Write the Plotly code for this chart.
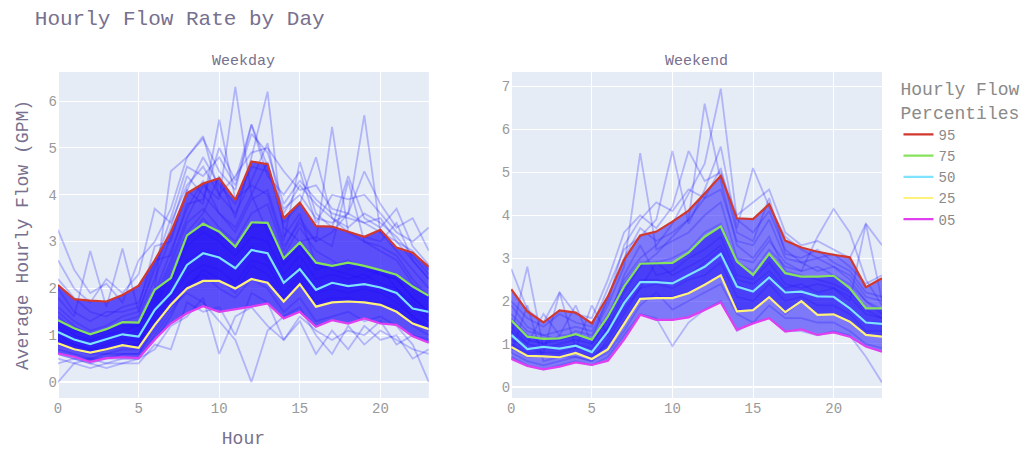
import plotly.graph_objects as go
from plotly.subplots import make_subplots

hours = list(range(24))
percentile_names = ["95", "75", "50", "25", "05"]
percentile_colors = ["#d2392e", "#86e25c", "#7ee3ff", "#fff27a", "#e03ff0"]

# Weekday hourly percentiles (GPM)
weekday_p95 = [2.07, 1.77, 1.74, 1.72, 1.86, 2.06, 2.60, 3.20, 4.03, 4.24, 4.35, 3.89,
               4.71, 4.65, 3.50, 3.83, 3.33, 3.32, 3.21, 3.10, 3.25, 2.87, 2.76, 2.46]
weekday_p75 = [1.32, 1.15, 1.02, 1.13, 1.28, 1.27, 1.97, 2.22, 3.13, 3.38, 3.21, 2.89,
               3.41, 3.40, 2.64, 2.98, 2.55, 2.48, 2.55, 2.48, 2.39, 2.29, 2.04, 1.84]
weekday_p50 = [1.07, 0.91, 0.81, 0.91, 1.02, 0.97, 1.54, 1.90, 2.50, 2.75, 2.66, 2.43,
               2.82, 2.75, 2.12, 2.41, 1.97, 2.12, 2.05, 2.09, 2.02, 1.90, 1.57, 1.50]
weekday_p25 = [0.83, 0.70, 0.63, 0.70, 0.79, 0.73, 1.22, 1.65, 2.00, 2.16, 2.16, 2.00,
               2.20, 2.12, 1.72, 2.09, 1.61, 1.70, 1.72, 1.70, 1.65, 1.50, 1.25, 1.13]
weekday_p05 = [0.61, 0.54, 0.43, 0.51, 0.53, 0.51, 0.91, 1.25, 1.47, 1.62, 1.50, 1.55,
               1.61, 1.68, 1.36, 1.50, 1.18, 1.32, 1.25, 1.36, 1.25, 1.22, 0.98, 0.84]

# Weekend hourly percentiles (GPM)
weekend_p95 = [2.28, 1.76, 1.50, 1.78, 1.73, 1.48, 2.11, 2.96, 3.53, 3.62, 3.85, 4.11,
               4.51, 4.92, 3.93, 3.91, 4.26, 3.41, 3.25, 3.15, 3.08, 3.02, 2.32, 2.53]
weekend_p75 = [1.55, 1.17, 1.12, 1.13, 1.23, 1.10, 1.64, 2.34, 2.87, 2.88, 2.89, 3.13,
               3.50, 3.74, 2.92, 2.61, 3.10, 2.65, 2.57, 2.57, 2.59, 2.30, 1.83, 1.83]
weekend_p50 = [1.21, 0.88, 0.93, 0.89, 0.96, 0.81, 1.29, 1.95, 2.44, 2.44, 2.41, 2.61,
               2.80, 3.10, 2.34, 2.22, 2.55, 2.20, 2.22, 2.11, 2.10, 1.83, 1.50, 1.47]
weekend_p25 = [0.93, 0.72, 0.71, 0.69, 0.79, 0.65, 0.88, 1.48, 2.05, 2.07, 2.07, 2.18,
               2.38, 2.60, 1.76, 1.79, 2.09, 1.74, 2.00, 1.68, 1.69, 1.52, 1.21, 1.17]
weekend_p05 = [0.65, 0.49, 0.41, 0.47, 0.57, 0.51, 0.61, 1.10, 1.68, 1.56, 1.56, 1.62,
               1.79, 1.97, 1.33, 1.48, 1.60, 1.29, 1.34, 1.21, 1.27, 1.17, 0.94, 0.82]

# Individual day profiles (GPM by hour)
weekday_days = [
    [1.2, 0.9, 0.8, 0.9, 1.0, 1.1, 1.8, 2.6, 3.5, 4.2, 3.9, 6.3, 4.0, 3.2, 2.7, 3.3, 2.8, 2.6, 2.4, 2.5, 2.3, 2.2, 1.8, 1.5],
    [0.9, 0.8, 0.7, 0.8, 0.9, 0.9, 1.6, 2.4, 3.2, 3.6, 4.4, 3.5, 4.8, 6.2, 3.1, 3.6, 2.5, 2.4, 2.3, 2.2, 2.4, 2.0, 1.7, 1.4],
    [1.5, 1.2, 1.0, 1.1, 1.3, 1.4, 2.2, 3.1, 4.1, 3.8, 5.6, 3.9, 4.2, 4.0, 2.9, 3.4, 3.0, 3.2, 3.6, 5.7, 3.2, 2.8, 2.4, 2.0],
    [0.7, 0.6, 0.5, 0.5, 0.6, 0.6, 1.1, 1.6, 1.9, 1.7, 1.3, 0.9, 0.0, 1.1, 1.4, 1.6, 1.0, 0.6, 1.2, 0.8, 1.1, 0.9, 0.7, 0.6],
    [3.25, 2.4, 1.9, 2.1, 1.7, 2.6, 3.0, 3.7, 4.8, 5.2, 4.5, 4.1, 5.5, 4.6, 3.6, 4.2, 3.8, 3.5, 3.3, 3.6, 3.4, 3.1, 2.7, 2.3],
    [0.0, 0.4, 0.5, 0.4, 0.5, 0.5, 0.9, 1.4, 2.1, 2.3, 2.0, 1.8, 2.2, 2.0, 1.5, 1.8, 1.3, 1.4, 1.5, 1.3, 1.4, 1.2, 0.8, 0.0],
    [1.1, 0.9, 0.8, 0.9, 1.0, 1.0, 1.7, 2.5, 3.4, 3.7, 3.3, 3.0, 3.6, 3.8, 2.8, 3.5, 3.0, 5.45, 3.2, 3.0, 2.9, 2.7, 2.2, 1.8],
    [1.8, 1.4, 2.8, 1.6, 2.85, 1.5, 2.4, 3.3, 4.4, 4.0, 3.6, 3.2, 3.9, 4.1, 3.0, 4.7, 3.6, 3.3, 4.4, 3.5, 3.3, 3.7, 2.9, 2.5],
    [1.0, 0.8, 0.7, 0.7, 0.8, 0.8, 1.4, 2.1, 2.9, 3.2, 3.0, 2.7, 3.1, 3.0, 2.3, 2.7, 2.2, 2.3, 2.2, 2.3, 2.1, 2.0, 1.6, 1.3],
    [0.6, 0.5, 0.4, 0.5, 0.5, 0.5, 1.0, 1.5, 2.0, 2.4, 2.2, 1.9, 2.5, 2.3, 1.8, 2.2, 1.7, 1.8, 1.8, 1.7, 1.7, 1.6, 1.2, 1.0],
    [0.5, 0.4, 0.3, 0.4, 0.4, 0.5, 0.7, 1.2, 1.4, 1.8, 0.6, 1.4, 1.6, 1.2, 0.9, 1.3, 0.6, 1.1, 0.7, 1.2, 0.9, 1.0, 0.5, 0.7],
    [1.3, 1.0, 0.9, 1.0, 1.1, 1.2, 2.0, 4.5, 4.8, 5.25, 4.0, 3.6, 4.3, 5.1, 3.4, 3.8, 4.8, 3.5, 3.2, 3.1, 3.0, 3.4, 2.6, 2.2],
    [2.2, 1.8, 1.5, 1.4, 1.6, 1.7, 2.6, 2.7, 3.8, 3.9, 5.0, 4.3, 5.5, 4.4, 4.0, 4.5, 3.4, 4.0, 3.9, 4.0, 3.6, 3.2, 3.0, 3.3],
    [0.8, 0.7, 0.6, 0.6, 0.7, 0.7, 1.3, 1.9, 2.6, 2.8, 2.7, 2.4, 2.9, 2.6, 2.1, 2.5, 2.0, 2.1, 2.0, 2.1, 2.0, 1.8, 1.4, 1.1],
    [2.6, 2.0, 1.7, 2.2, 1.9, 2.3, 3.7, 3.4, 4.2, 4.6, 4.0, 4.4, 4.9, 5.0, 4.5, 4.1, 4.2, 3.7, 3.6, 4.5, 3.8, 3.3, 3.5, 2.8],
    [0.4, 0.5, 0.4, 0.3, 0.4, 0.4, 0.8, 0.7, 1.7, 1.5, 1.6, 1.0, 1.9, 1.7, 0.9, 1.4, 1.1, 0.9, 1.1, 1.0, 1.3, 0.8, 1.0, 0.9],
    [1.6, 1.3, 1.1, 1.2, 1.4, 1.5, 2.5, 3.5, 4.6, 4.4, 4.8, 4.2, 5.3, 4.9, 3.8, 4.3, 3.9, 3.6, 3.5, 3.4, 3.5, 3.0, 2.6, 2.2],
    [0.9, 0.7, 0.6, 0.7, 0.8, 0.8, 1.5, 2.3, 3.0, 3.5, 3.1, 2.9, 3.3, 3.4, 2.5, 2.9, 2.4, 2.5, 2.6, 2.4, 2.3, 2.2, 1.8, 1.5],
    [1.4, 1.1, 1.0, 1.1, 1.2, 1.2, 1.9, 2.8, 3.7, 4.3, 3.6, 3.3, 4.0, 4.7, 3.3, 3.0, 3.1, 2.9, 4.3, 3.0, 2.8, 2.6, 2.1, 1.8],
    [0.6, 0.5, 0.5, 0.6, 0.6, 0.6, 1.2, 1.8, 2.3, 2.5, 2.4, 2.1, 2.6, 2.5, 1.9, 2.3, 1.9, 2.0, 1.9, 2.0, 1.9, 1.7, 1.4, 1.2],
    [2.0, 1.5, 1.3, 1.5, 1.5, 1.6, 2.9, 3.0, 4.1, 4.8, 4.2, 3.8, 4.6, 4.5, 3.7, 4.0, 3.5, 3.4, 3.6, 3.4, 3.2, 3.0, 2.8, 2.4],
]

weekend_days = [
    [1.4, 1.0, 0.9, 1.0, 1.1, 1.0, 1.6, 2.5, 3.0, 3.3, 3.8, 4.5, 5.2, 6.95, 3.9, 3.6, 4.1, 3.2, 2.9, 2.7, 2.8, 2.5, 2.0, 1.7],
    [1.1, 0.9, 0.8, 0.8, 0.9, 0.8, 1.4, 2.2, 2.8, 3.1, 3.5, 3.9, 6.6, 4.8, 3.3, 3.0, 3.5, 2.7, 2.6, 2.5, 2.4, 2.2, 1.8, 1.6],
    [1.7, 1.3, 1.2, 1.1, 1.3, 1.2, 1.9, 2.8, 5.45, 3.2, 3.4, 3.6, 4.0, 4.3, 3.0, 2.9, 3.4, 2.9, 2.7, 2.8, 2.6, 2.4, 2.0, 1.8],
    [2.0, 1.6, 1.4, 1.7, 1.5, 1.4, 2.3, 3.2, 3.5, 3.9, 5.5, 3.8, 4.6, 5.6, 3.7, 5.1, 4.2, 3.5, 3.2, 3.0, 3.1, 2.8, 2.4, 2.6],
    [2.75, 1.8, 1.5, 2.2, 1.7, 1.6, 2.5, 3.6, 4.0, 3.7, 4.2, 5.5, 4.8, 5.0, 4.0, 4.3, 4.6, 3.6, 3.3, 3.4, 3.2, 3.0, 3.8, 3.3],
    [0.7, 0.5, 0.4, 0.5, 0.6, 0.5, 0.7, 1.2, 1.7, 1.6, 0.95, 1.5, 1.8, 2.0, 1.3, 1.5, 1.6, 1.3, 1.3, 1.2, 1.3, 1.2, 0.7, 0.1],
    [1.5, 1.1, 1.0, 1.1, 1.2, 1.1, 1.7, 2.4, 2.9, 2.9, 3.0, 3.2, 3.6, 3.8, 2.9, 2.7, 3.2, 2.8, 2.7, 3.5, 4.15, 3.6, 2.5, 1.9],
    [1.2, 2.8, 0.9, 0.9, 1.0, 0.9, 1.4, 2.0, 2.5, 2.5, 2.4, 2.6, 2.9, 3.2, 2.4, 2.2, 2.6, 2.2, 2.2, 2.1, 2.1, 1.8, 1.5, 1.5],
    [0.9, 0.7, 0.7, 0.7, 0.8, 0.7, 1.0, 1.5, 2.1, 2.1, 2.1, 2.2, 2.4, 2.6, 1.8, 1.8, 2.1, 1.7, 2.0, 1.7, 1.7, 1.5, 1.2, 1.2],
    [1.3, 1.0, 1.7, 1.2, 1.9, 1.0, 1.5, 2.6, 3.3, 2.6, 2.7, 3.0, 3.2, 3.5, 2.6, 2.5, 2.9, 2.4, 2.3, 2.4, 2.3, 2.1, 1.7, 1.6],
    [1.0, 0.8, 0.8, 2.2, 0.9, 1.9, 1.2, 1.8, 2.3, 2.9, 2.6, 2.8, 3.0, 3.3, 2.5, 2.4, 2.7, 2.3, 2.4, 2.2, 2.3, 2.0, 3.8, 2.0],
    [0.8, 0.6, 0.5, 0.6, 0.7, 0.6, 0.8, 1.3, 1.9, 2.2, 1.8, 2.0, 2.2, 2.4, 1.7, 1.5, 1.9, 1.6, 1.6, 1.5, 1.5, 1.3, 1.0, 0.9],
    [1.9, 1.4, 1.2, 1.3, 1.4, 1.3, 2.0, 3.3, 3.9, 4.3, 4.1, 4.6, 4.4, 5.1, 3.6, 3.4, 4.4, 3.1, 3.0, 3.2, 2.9, 2.7, 2.2, 2.1],
    [1.6, 1.2, 1.0, 1.2, 1.2, 1.1, 2.1, 3.0, 3.7, 3.4, 3.6, 3.9, 4.4, 4.6, 3.4, 3.3, 3.9, 3.0, 2.9, 3.0, 2.8, 2.6, 2.1, 2.0],
    [0.8, 1.9, 0.6, 0.7, 0.7, 0.6, 1.1, 1.7, 2.3, 2.4, 2.3, 2.5, 2.6, 2.9, 2.1, 2.0, 2.4, 2.0, 2.1, 1.9, 1.9, 1.7, 1.3, 1.3],
]

panels = [
    (weekday_days, [weekday_p95, weekday_p75, weekday_p50, weekday_p25, weekday_p05],
     "rgba(38,18,250,0.72)", "rgba(28,8,245,0.65)"),
    (weekend_days, [weekend_p95, weekend_p75, weekend_p50, weekend_p25, weekend_p05],
     "rgba(40,28,250,0.55)", "rgba(32,16,248,0.55)"),
]

font_family = "Courier New, Liberation Mono, monospace"
text_color = "#77708e"

fig = make_subplots(rows=1, cols=2, subplot_titles=("Weekday", "Weekend"))

for col, (days, pcts, outer_fill, inner_fill) in enumerate(panels, start=1):
    # daily profiles
    for day in days:
        fig.add_trace(go.Scatter(x=hours, y=day, mode="lines",
                                 line=dict(color="rgba(20,10,255,0.25)", width=1.8),
                                 showlegend=False, hoverinfo="skip"), row=1, col=col)
    # density bands: 5th-95th and 25th-75th
    for lo, hi, fc in [(pcts[4], pcts[0], outer_fill), (pcts[3], pcts[1], inner_fill)]:
        fig.add_trace(go.Scatter(x=hours, y=lo, mode="lines", line=dict(width=0),
                                 showlegend=False, hoverinfo="skip"), row=1, col=col)
        fig.add_trace(go.Scatter(x=hours, y=hi, mode="lines", line=dict(width=0),
                                 fill="tonexty", fillcolor=fc,
                                 showlegend=False, hoverinfo="skip"), row=1, col=col)
    # percentile lines
    for name, color, values in zip(percentile_names, percentile_colors, pcts):
        fig.add_trace(go.Scatter(x=hours, y=values, mode="lines", name=name,
                                 line=dict(color=color, width=2.2),
                                 legendgroup=name, showlegend=(col == 1)),
                      row=1, col=col)

fig.update_layout(
    width=1023, height=451,
    template="plotly",
    font=dict(family=font_family, size=14, color=text_color),
    title=dict(text="Hourly Flow Rate by Day", x=0.034, xanchor="left",
               y=0.96, yanchor="middle", font=dict(size=21, color=text_color)),
    margin=dict(l=58, r=141, t=72, b=53, autoexpand=False),
    legend=dict(title=dict(text="Hourly Flow<br>Percentiles", font=dict(size=18)),
                x=1.02, xanchor="left", y=1.0, yanchor="top",
                traceorder="normal", tracegroupgap=3, itemwidth=30,
                font=dict(size=14, color="#8a8a8a")),
    showlegend=True,
)

fig.update_xaxes(range=[0, 23], dtick=5, tickfont=dict(color="#999999"))
fig.update_xaxes(domain=[0, 0.450], row=1, col=1,
                 title=dict(text="Hour", font=dict(size=18)))
fig.update_xaxes(domain=[0.550, 1.0], row=1, col=2)
fig.update_yaxes(tickfont=dict(color="#999999"))
fig.update_yaxes(range=[-0.34, 6.62], dtick=1, row=1, col=1,
                 title=dict(text="Average Hourly Flow (GPM)", font=dict(size=18)))
fig.update_yaxes(range=[-0.26, 7.34], dtick=1, row=1, col=2)

# subplot titles follow the axis domains
for ann, dom in zip(fig.layout.annotations, [[0, 0.450], [0.550, 1.0]]):
    ann.x = (dom[0] + dom[1]) / 2
    ann.font = dict(size=15, color=text_color, family=font_family)

fig.write_html("out.html")
